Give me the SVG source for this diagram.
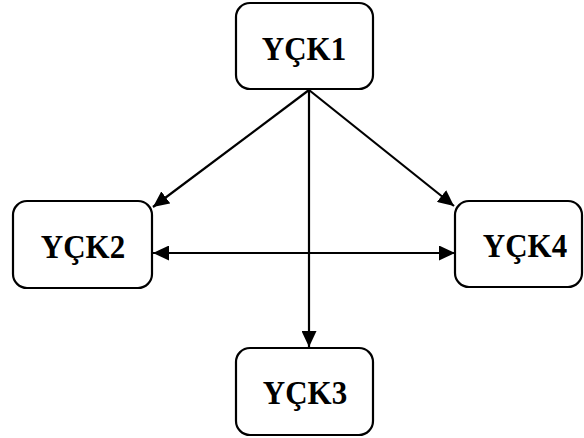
<svg xmlns="http://www.w3.org/2000/svg" width="584" height="438" viewBox="0 0 584 438">
  <style>
    .box { fill: #ffffff; stroke: #000000; stroke-width: 2.2; }
    .label { font-family: "Liberation Serif", "Times New Roman", serif; font-weight: bold; font-size: 31px; fill: #000000; text-anchor: middle; }
    .link { stroke: #000000; stroke-width: 2.2; fill: none; }
  </style>
  <defs>
    <marker id="arrow" viewBox="0 0 16 15" refX="16" refY="7.5" markerWidth="16" markerHeight="15" markerUnits="userSpaceOnUse" orient="auto-start-reverse">
      <path d="M0,0 L16,7.5 L0,15 Z" fill="#000000"/>
    </marker>
  </defs>
  <rect width="584" height="438" fill="#ffffff"/>

  <g id="connectors">
    <line class="link" x1="309" y1="90" x2="153" y2="207" marker-end="url(#arrow)"/>
    <line class="link" x1="309" y1="90" x2="454" y2="206" marker-end="url(#arrow)"/>
    <line class="link" x1="309" y1="90" x2="309" y2="347" marker-end="url(#arrow)"/>
    <line class="link" x1="153" y1="253" x2="455" y2="253" marker-start="url(#arrow)" marker-end="url(#arrow)"/>
  </g>

  <g id="yck1">
    <rect class="box" x="236" y="3" width="137" height="86" rx="14"/>
    <text class="label" transform="translate(304,60) scale(1,1.12)">YÇK1</text>
  </g>
  <g id="yck2">
    <rect class="box" x="13" y="201" width="139" height="87" rx="14"/>
    <text class="label" transform="translate(83,258) scale(1,1.12)">YÇK2</text>
  </g>
  <g id="yck4">
    <rect class="box" x="455" y="201" width="127" height="86" rx="14"/>
    <text class="label" transform="translate(525,257) scale(1,1.12)">YÇK4</text>
  </g>
  <g id="yck3">
    <rect class="box" x="236" y="348" width="137" height="87" rx="14"/>
    <text class="label" transform="translate(305,404) scale(1,1.12)">YÇK3</text>
  </g>
</svg>
